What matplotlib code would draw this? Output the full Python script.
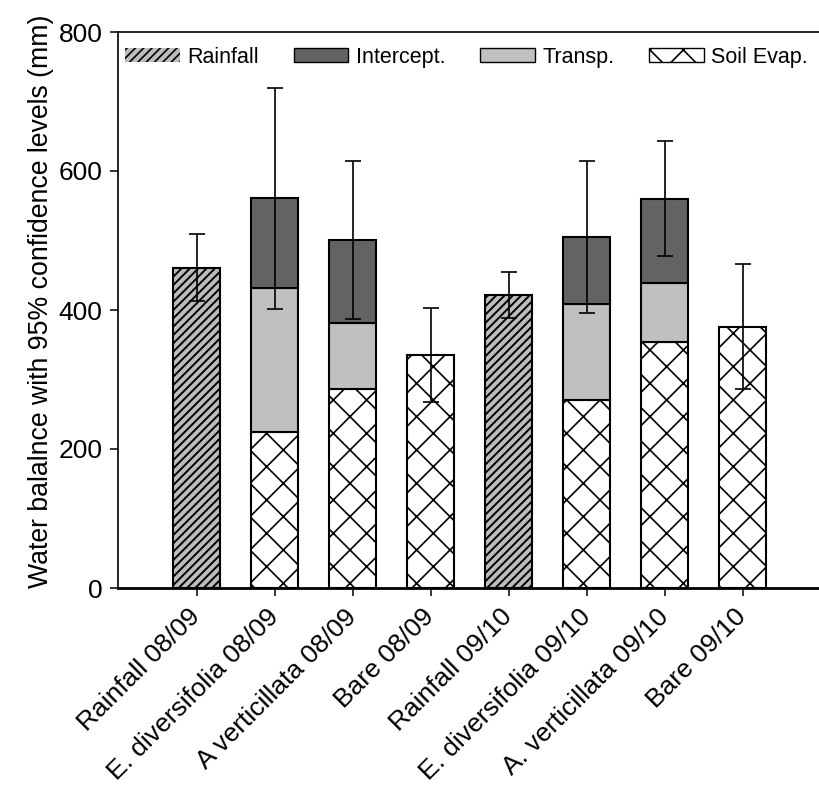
import matplotlib
matplotlib.use("Agg")
import matplotlib.pyplot as plt
from matplotlib.patches import Patch
import numpy as np

plt.rcParams['font.family'] = ['Liberation Sans', 'DejaVu Sans']
plt.rcParams['hatch.linewidth'] = 1.2

# valores (mm)
labels = ['Rainfall 08/09', 'E. diversifolia 08/09', 'A verticillata 08/09', 'Bare 08/09',
          'Rainfall 09/10', 'E. diversifolia 09/10', 'A. verticillata 09/10', 'Bare 09/10']
rainfall = [461, 0, 0, 0, 422, 0, 0, 0]
soil_evap = [0, 225, 286, 335, 0, 271, 354, 376]
transp = [0, 206, 96, 0, 0, 138, 85, 0]
intercept = [0, 130, 119, 0, 0, 96, 121, 0]
ci95 = [48, 159, 114, 68, 33, 110, 83, 90]

x = np.arange(len(labels))
rainfall = np.array(rainfall)
soil_evap = np.array(soil_evap)
transp = np.array(transp)
intercept = np.array(intercept)
total = rainfall + soil_evap + transp + intercept

fig = plt.figure(figsize=(8.19, 7.98), dpi=100)
ax = fig.add_axes([118/819, 1 - 588/798, 701/819, 556/798])

w = 0.6
lw = 1.5
m = rainfall > 0
bars_r = ax.bar(x[m], rainfall[m], w, color='#bcbcbc', edgecolor='black', hatch='////', linewidth=lw, zorder=2)
for b in bars_r:
    if hasattr(b, 'set_hatch_linewidth'):
        b.set_hatch_linewidth(1.4)
m = soil_evap > 0
ax.bar(x[m], soil_evap[m], w, color='white', edgecolor='black', hatch='x', linewidth=lw, zorder=2)
m = transp > 0
ax.bar(x[m], transp[m], w, bottom=soil_evap[m], color='#c0c0c0', edgecolor='black', linewidth=lw, zorder=2)
m = intercept > 0
ax.bar(x[m], intercept[m], w, bottom=(soil_evap + transp)[m], color='#636363', edgecolor='black', linewidth=lw, zorder=2)

ax.errorbar(x, total, yerr=ci95, fmt='none', ecolor='black', elinewidth=1.2, capsize=6, capthick=1.2, zorder=3)

ax.set_xlim(-1.01, 7.98)
ax.set_ylim(0, 800)
ax.set_yticks([0, 200, 400, 600, 800])
ax.set_xticks(x)
ax.set_xticklabels(labels, rotation=45, ha='right', va='center', rotation_mode='anchor')
ax.tick_params(axis='both', direction='out', length=6, width=1.1, labelsize=19)
ax.tick_params(axis='x', pad=12)
ax.tick_params(axis='y', pad=5)
ax.set_ylabel('Water balalnce with 95% confidence levels (mm)', fontsize=19.2)
ax.yaxis.set_label_coords(-0.091, 0.515)

ax.spines['right'].set_visible(False)
ax.spines['left'].set_linewidth(1.2)
ax.spines['top'].set_linewidth(1.2)
ax.spines['bottom'].set_linewidth(2)

h_rain = Patch(facecolor='#bcbcbc', edgecolor='black', hatch='////', linewidth=0)
if hasattr(h_rain, 'set_hatch_linewidth'):
    h_rain.set_hatch_linewidth(1.4)
handles = [h_rain,
           Patch(facecolor='#636363', edgecolor='black', linewidth=1),
           Patch(facecolor='#c0c0c0', edgecolor='black', linewidth=1),
           Patch(facecolor='white', edgecolor='black', hatch='x', linewidth=1)]
ax.legend(handles, ['Rainfall', 'Intercept.', 'Transp.', 'Soil Evap.'], ncol=4, frameon=False,
          loc='center left', bbox_to_anchor=(0.01, 0.955), borderpad=0, borderaxespad=0,
          fontsize=15.5, handlelength=2.55, handleheight=0.6, handletextpad=0.35, columnspacing=1.6)

fig.savefig('out.png', dpi=100)
